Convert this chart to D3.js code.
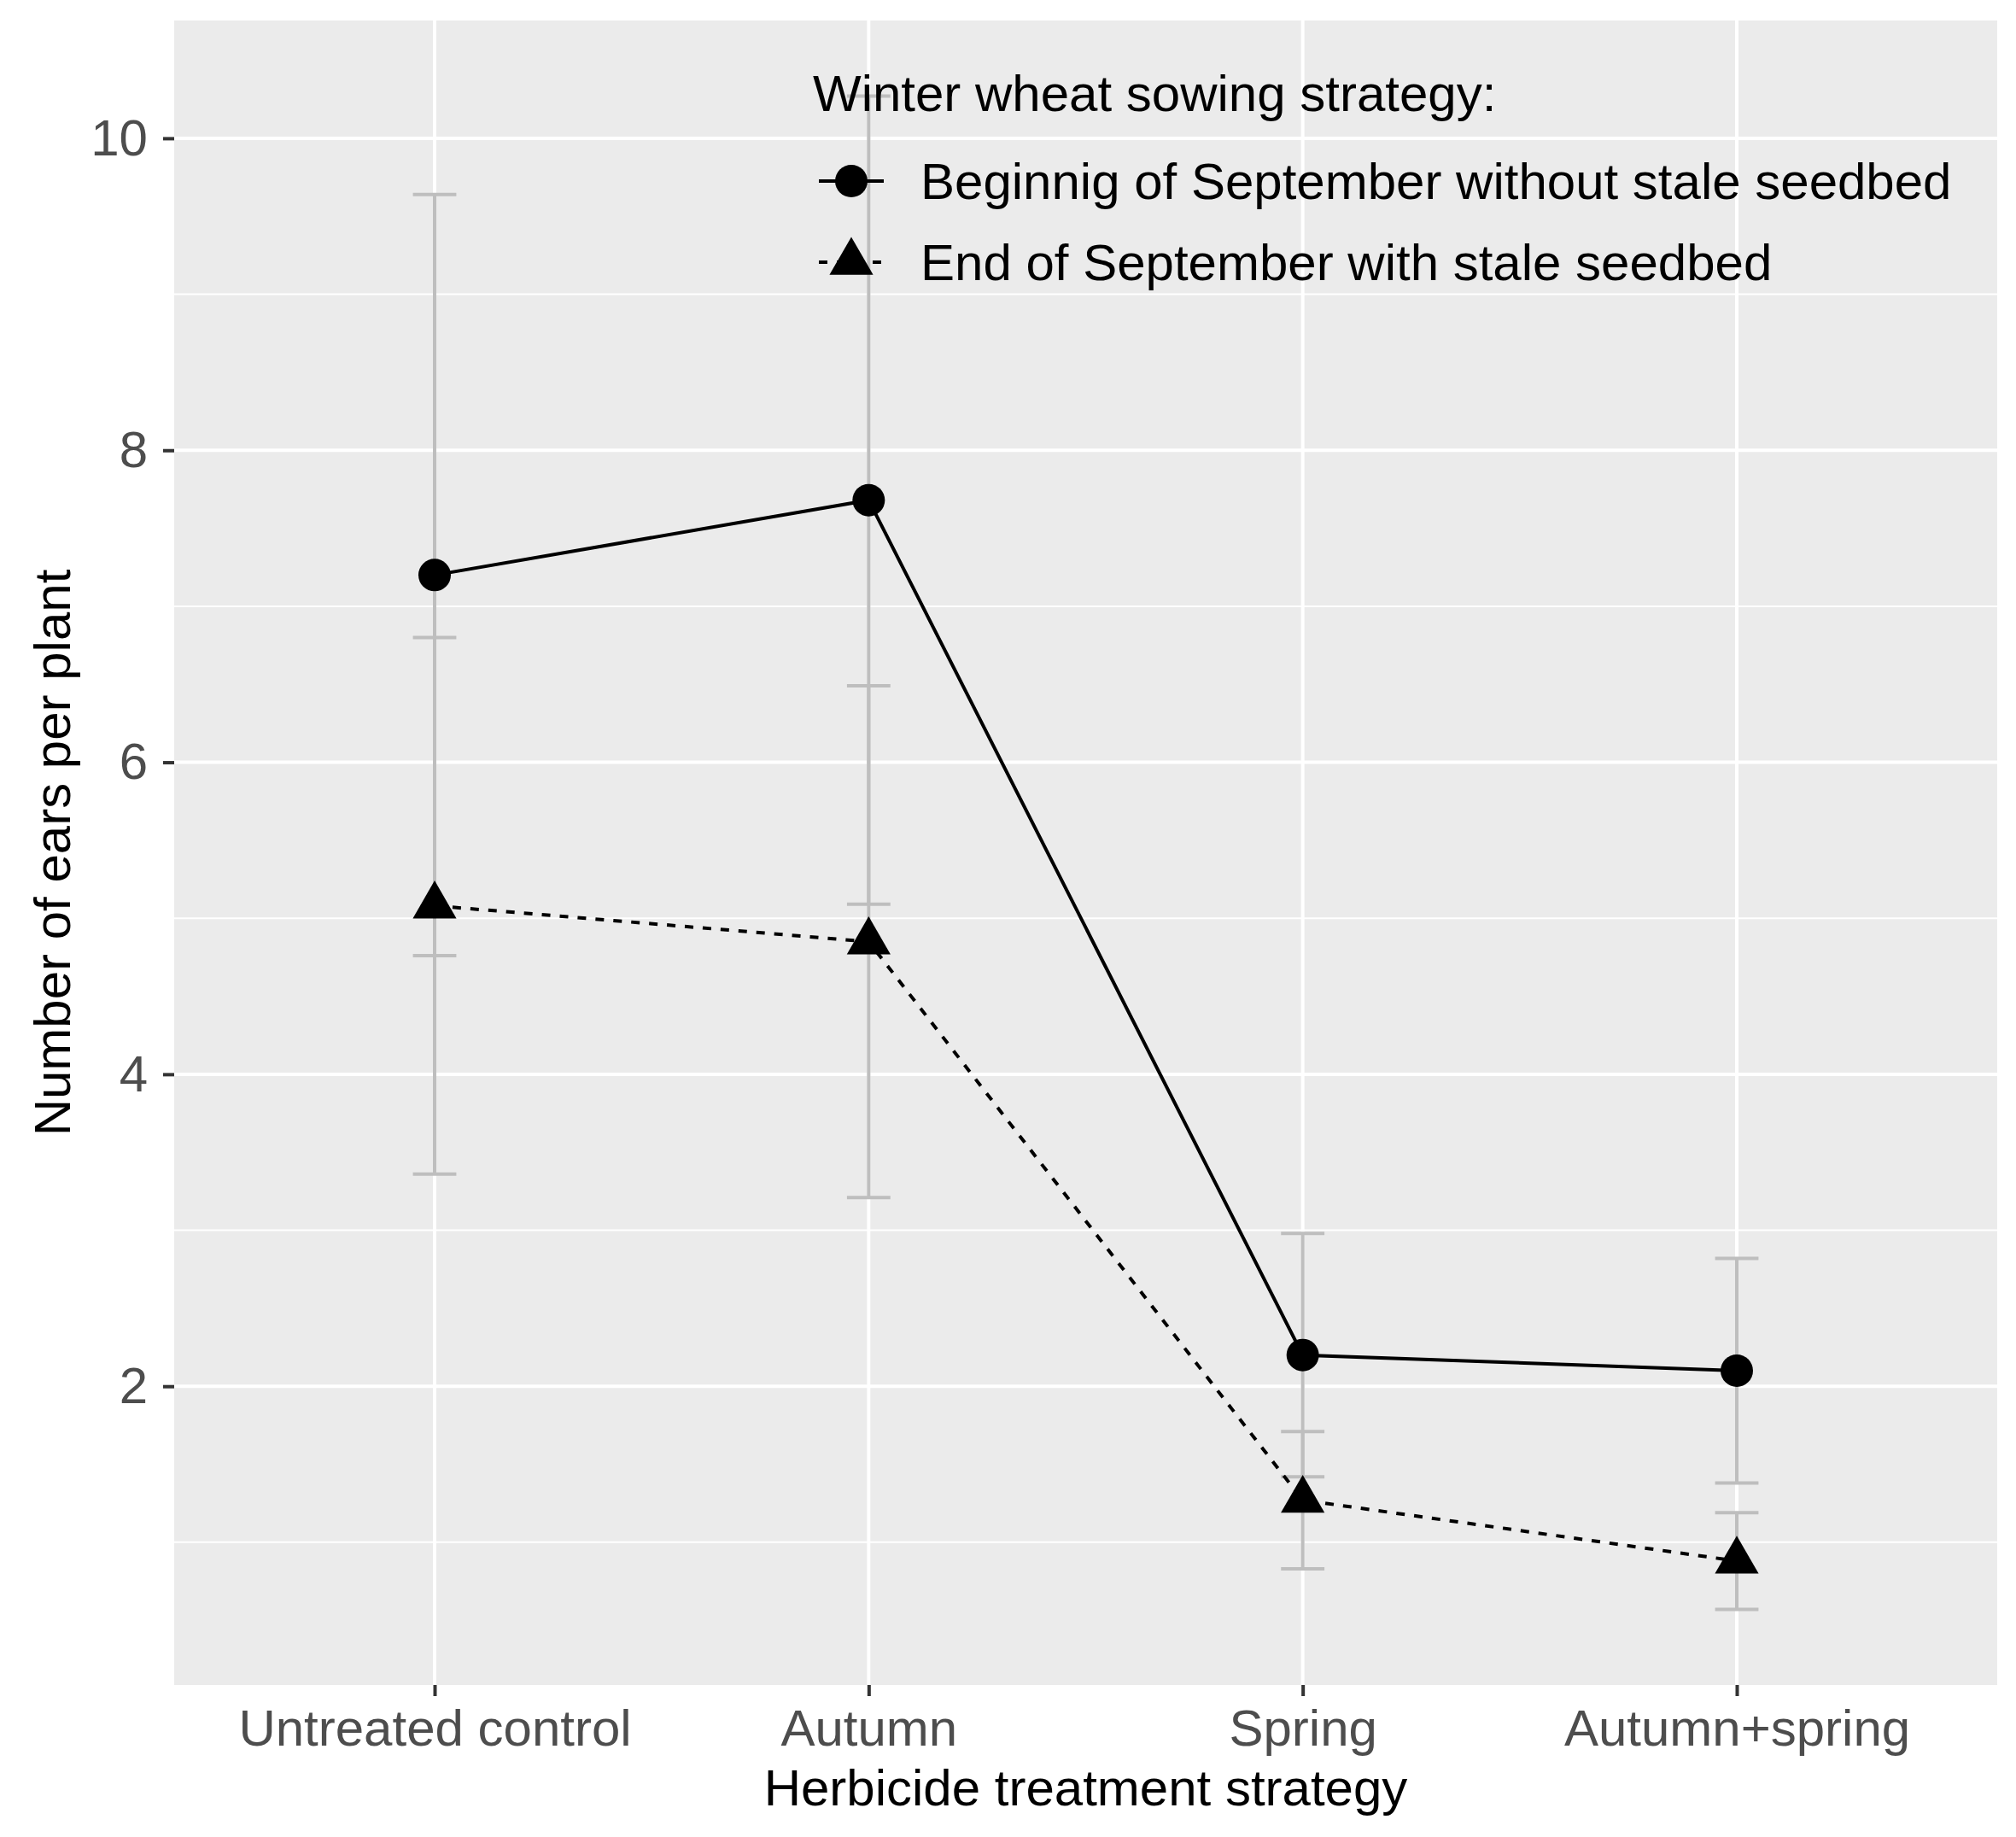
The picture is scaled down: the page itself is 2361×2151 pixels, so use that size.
<!DOCTYPE html>
<html>
<head>
<meta charset="utf-8">
<script src="https://cdn.jsdelivr.net/npm/d3@7"></script>
<style>
	body { margin: 0; background: #ffffff; }
	text { font-family: "Liberation Sans", Arial, sans-serif; }
</style>
</head>
<body>
<svg id="chart" width="2361" height="2151"></svg>
<script>

// Data

var treatments = ["Untreated control", "Autumn", "Spring", "Autumn+spring"];

var seriesNames = ["Beginnig of September without stale seedbed", "End of September with stale seedbed"];

var earlyMean = [7.20, 7.68, 2.20, 2.10];
var earlyErr = [2.44, 2.59, 0.78, 0.72];

var lateMean = [5.08, 4.85, 1.27, 0.88];
var lateErr = [1.72, 1.64, 0.44, 0.31];

var yTicks = [2, 4, 6, 8, 10];
var yMinor = [1, 3, 5, 7, 9];

var legendTitle = "Winter wheat sowing strategy:";
var xTitle = "Herbicide treatment strategy";
var yTitle = "Number of ears per plant";

// Layout

var panel = { left: 204, right: 2339, top: 24, bottom: 1973 };
var fontSize = 60;

var svg = d3.select("#chart");

var series = [
	{ name: seriesNames[0], mean: earlyMean, err: earlyErr, shape: "circle", dash: null },
	{ name: seriesNames[1], mean: lateMean, err: lateErr, shape: "triangle", dash: "10,11" }
];

// y range with ggplot style 5% expansion
var lows = [], highs = [];
series.forEach(function(s) {
	s.mean.forEach(function(m, i) {
		lows.push(m - s.err[i]);
		highs.push(m + s.err[i]);
	});
});
var lo = d3.min(lows), hi = d3.max(highs);
var pad = (hi - lo) * 0.05;

var x = d3.scalePoint()
	.domain(treatments)
	.range([panel.left, panel.right])
	.padding(0.6);

var y = d3.scaleLinear()
	.domain([lo - pad, hi + pad])
	.range([panel.bottom, panel.top]);

// Panel background and grid

svg.append("rect")
	.attr("x", panel.left)
	.attr("y", panel.top)
	.attr("width", panel.right - panel.left)
	.attr("height", panel.bottom - panel.top)
	.attr("fill", "#ebebeb");

svg.append("g").selectAll("line")
	.data(yMinor)
	.enter().append("line")
	.attr("x1", panel.left).attr("x2", panel.right)
	.attr("y1", function(d) { return y(d); })
	.attr("y2", function(d) { return y(d); })
	.attr("stroke", "#ffffff")
	.attr("stroke-width", 2);

svg.append("g").selectAll("line")
	.data(yTicks)
	.enter().append("line")
	.attr("x1", panel.left).attr("x2", panel.right)
	.attr("y1", function(d) { return y(d); })
	.attr("y2", function(d) { return y(d); })
	.attr("stroke", "#ffffff")
	.attr("stroke-width", 4);

svg.append("g").selectAll("line")
	.data(treatments)
	.enter().append("line")
	.attr("x1", function(d) { return x(d); })
	.attr("x2", function(d) { return x(d); })
	.attr("y1", panel.top).attr("y2", panel.bottom)
	.attr("stroke", "#ffffff")
	.attr("stroke-width", 4);

// Axes

var yAxis = svg.append("g")
	.attr("transform", "translate(" + panel.left + ",0)")
	.call(d3.axisLeft(y).tickValues(yTicks).tickSize(13).tickPadding(18));

var xAxis = svg.append("g")
	.attr("transform", "translate(0," + panel.bottom + ")")
	.call(d3.axisBottom(x).tickSize(13).tickPadding(15));

[yAxis, xAxis].forEach(function(axis) {
	axis.select(".domain").remove();
	axis.selectAll(".tick line").attr("stroke", "#333333").attr("stroke-width", 4);
	axis.selectAll(".tick text")
		.attr("fill", "#4d4d4d")
		.style("font-size", fontSize + "px")
		.style("font-family", "'Liberation Sans', Arial, sans-serif");
});

svg.append("text")
	.attr("x", (panel.left + panel.right) / 2)
	.attr("y", 2114)
	.attr("text-anchor", "middle")
	.style("font-size", fontSize + "px")
	.text(xTitle);

svg.append("text")
	.attr("transform", "translate(82," + ((panel.top + panel.bottom) / 2) + ") rotate(-90)")
	.attr("text-anchor", "middle")
	.style("font-size", fontSize + "px")
	.text(yTitle);

// Marks

var capHalf = x.step() * 0.05;
var dotR = 19;

function trianglePath(cx, cy, s) {
	var r = Math.sqrt(4 * Math.PI / (3 * Math.sqrt(3))) * s;
	var xc = r * Math.sqrt(3) / 2;
	var yc = r / 2;
	return "M" + cx + "," + (cy - r) + "L" + (cx + xc) + "," + (cy + yc) + "L" + (cx - xc) + "," + (cy + yc) + "Z";
}

function drawPoint(g, shape, cx, cy) {
	if (shape === "circle") {
		g.append("circle").attr("cx", cx).attr("cy", cy).attr("r", dotR).attr("fill", "#000000");
	} else {
		g.append("path").attr("d", trianglePath(cx, cy, dotR)).attr("fill", "#000000");
	}
}

// error bars first
series.forEach(function(s) {
	var g = svg.append("g").attr("stroke", "#bebebe").attr("stroke-width", 4);
	treatments.forEach(function(t, i) {
		var top = y(s.mean[i] + s.err[i]);
		var bot = y(s.mean[i] - s.err[i]);
		g.append("line").attr("x1", x(t)).attr("x2", x(t)).attr("y1", top).attr("y2", bot);
		g.append("line").attr("x1", x(t) - capHalf).attr("x2", x(t) + capHalf).attr("y1", top).attr("y2", top);
		g.append("line").attr("x1", x(t) - capHalf).attr("x2", x(t) + capHalf).attr("y1", bot).attr("y2", bot);
	});
});

var line = d3.line()
	.x(function(d) { return x(d.t); })
	.y(function(d) { return y(d.v); });

series.forEach(function(s) {
	var pts = treatments.map(function(t, i) { return { t: t, v: s.mean[i] }; });
	svg.append("path")
		.datum(pts)
		.attr("d", line)
		.attr("fill", "none")
		.attr("stroke", "#000000")
		.attr("stroke-width", 4)
		.attr("stroke-dasharray", s.dash);
});

series.forEach(function(s) {
	var g = svg.append("g");
	treatments.forEach(function(t, i) {
		drawPoint(g, s.shape, x(t), y(s.mean[i]));
	});
});

// Legend

var legend = svg.append("g");

legend.append("text")
	.attr("x", 952)
	.attr("y", 130)
	.style("font-size", fontSize + "px")
	.text(legendTitle);

series.forEach(function(s, i) {
	var cy = 212 + i * 95;
	legend.append("line")
		.attr("x1", 959).attr("x2", 1035)
		.attr("y1", cy).attr("y2", cy)
		.attr("stroke", "#000000")
		.attr("stroke-width", 4)
		.attr("stroke-dasharray", s.dash);
	drawPoint(legend, s.shape, 997, cy);
	legend.append("text")
		.attr("x", 1078)
		.attr("y", cy + 21)
		.style("font-size", fontSize + "px")
		.text(s.name);
});

</script>
</body>
</html>
